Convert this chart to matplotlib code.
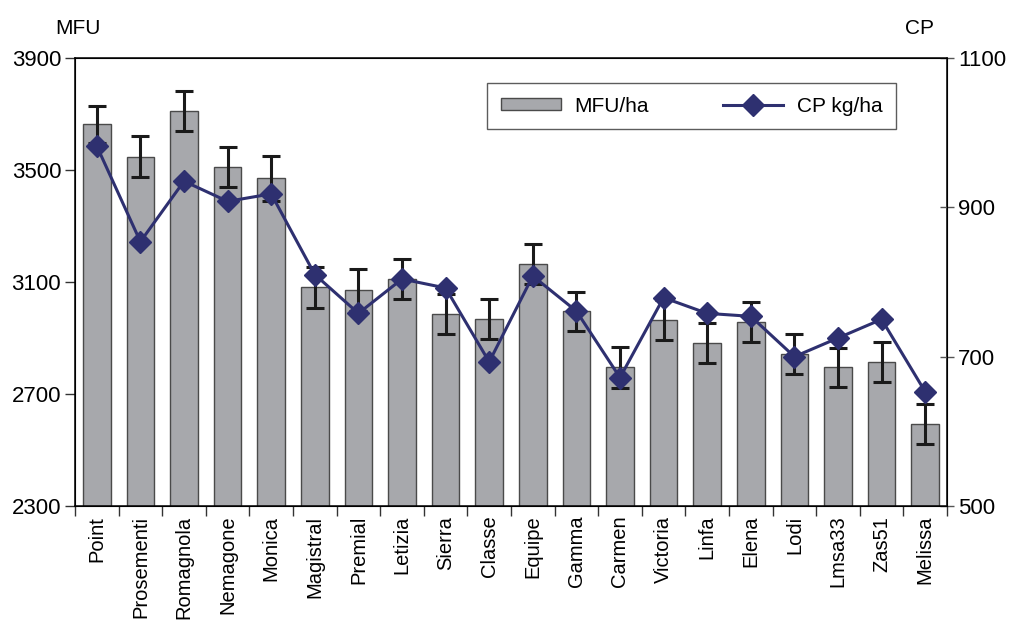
import matplotlib.pyplot as plt
import numpy as np

plt.rcParams['font.family'] = ['Liberation Sans', 'DejaVu Sans']

varieties = ['Point', 'Prosementi', 'Romagnola', 'Nemagone', 'Monica', 'Magistral',
             'Premial', 'Letizia', 'Sierra', 'Classe', 'Equipe', 'Gamma', 'Carmen',
             'Victoria', 'Linfa', 'Elena', 'Lodi', 'Lmsa33', 'Zas51', 'Melissa']
mfu = [3663, 3548, 3710, 3510, 3470, 3081, 3070, 3110, 2985, 2967,
       3165, 2995, 2795, 2965, 2881, 2957, 2842, 2795, 2813, 2594]
mfu_err = [65, 72, 72, 72, 79, 73, 75, 72, 72, 71,
           72, 71, 72, 71, 72, 72, 72, 71, 71, 71]
cp = [982, 854, 935, 908, 918, 810, 758, 804, 792, 693,
      808, 761, 672, 779, 758, 754, 700, 725, 750, 653]

fig = plt.figure(figsize=(10.15, 6.22), dpi=100)
ax = fig.add_axes([75/1015, 1-506/622, 872/1015, 448/622])

x = np.arange(len(varieties))
bars = ax.bar(x, mfu, 0.63, color='#a7a8ac', edgecolor='#4a4a4a', linewidth=1.0,
              label='MFU/ha', zorder=2)
ax.errorbar(x, mfu, yerr=mfu_err, fmt='none', ecolor='#1a1a1a', elinewidth=2.2,
            capsize=6.5, capthick=2.2, zorder=3)

ax.set_xlim(-0.5, len(varieties) - 0.5)
ax.set_ylim(2300, 3900)
ax.set_yticks([2300, 2700, 3100, 3500, 3900])
ax.set_xticks(x)
ax.set_xticklabels(varieties, rotation=90, fontsize=14.5)
ax.set_xticks(np.arange(len(varieties) + 1) - 0.5, minor=True)
ax.tick_params(axis='x', which='major', length=0, pad=7)
ax.tick_params(axis='x', which='minor', length=7, width=1, color='#333333')
ax.tick_params(axis='y', labelsize=16, length=7, width=1, color='#333333', pad=3)
for s in ax.spines.values():
    s.set_linewidth(1.1)

ax2 = ax.twinx()
line, = ax2.plot(x, cp, color='#2e3070', linewidth=2.2, marker='D', markersize=11,
                 markerfacecolor='#2e3070', markeredgecolor='#2e3070', label='CP kg/ha')
ax2.set_ylim(500, 1100)
ax2.set_yticks([500, 700, 900, 1100])
ax2.tick_params(axis='y', labelsize=16, length=10, width=1, color='#555555',
                direction='inout', pad=3)

fig.text(78/1015, 1-28/622, 'MFU', fontsize=15, ha='center', va='center')
fig.text(920/1015, 1-28/622, 'CP', fontsize=15, ha='center', va='center')

leg = ax.legend([bars, line], ['MFU/ha', 'CP kg/ha'], ncol=2, loc='upper left',
                bbox_to_anchor=(487/1015, 1-128/622, 409/1015, 45/622),
                bbox_transform=fig.transFigure, mode='expand',
                fontsize=15, frameon=True, fancybox=False, handlelength=2.9,
                handleheight=0.5, handletextpad=0.65, columnspacing=2.5,
                borderpad=0.65, borderaxespad=0)
leg.get_frame().set_edgecolor('#333333')
leg.get_frame().set_linewidth(1.0)
leg.set_zorder(10)
leg.remove()
ax2.add_artist(leg)

fig.savefig('out.png', dpi=100)
